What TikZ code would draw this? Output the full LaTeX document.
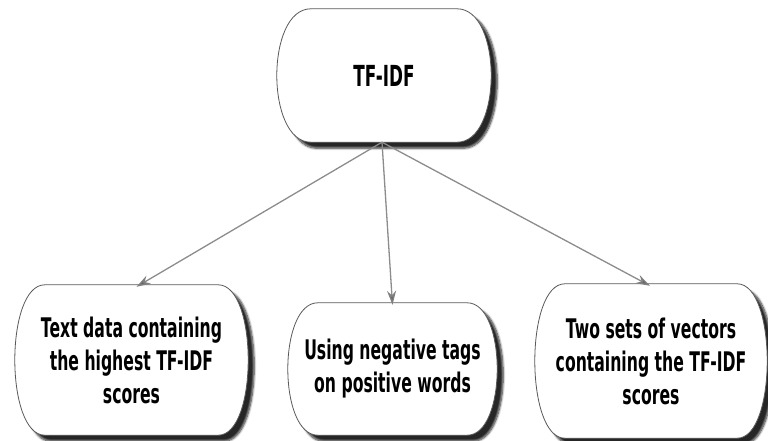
\documentclass[tikz,border=0pt]{standalone}
\usepackage{fontspec}
\setmainfont[FakeStretch=0.58]{DejaVu Sans}
\usetikzlibrary{shadows.blur,arrows.meta,calc}
\pgfdeclarelayer{background}
\pgfsetlayers{background,main}
\newcommand\blobshape[2]{%
  \begin{pgfonlayer}{background}
  \path[blob] let \p1=(#1.north west), \p2=(#1.south east) in
    (\x1+#2,\y1) -- (\x2-#2,\y1)
    .. controls (\x2+#2/3,\y1) and (\x2+#2/3,\y2) .. (\x2-#2,\y2)
    -- (\x1+#2,\y2)
    .. controls (\x1-#2/3,\y2) and (\x1-#2/3,\y1) .. cycle;
  \end{pgfonlayer}}
\begin{document}
\begin{tikzpicture}[x=1pt,y=-1pt,
  box/.style={align=center,font=\bfseries\fontsize{27}{33}\selectfont,inner sep=0pt},
  blob/.style={draw=black!65,line width=0.8pt,fill=white,
    blur shadow={shadow xshift=6pt,shadow yshift=-6pt,shadow blur steps=7,shadow opacity=85}},
  link/.style={draw=black!45,line width=1.3pt,-{Stealth[length=14pt,width=9pt,fill=black!60,color=black!50]}}]
\useasboundingbox (0,0) rectangle (768,441);
\node[box,minimum width=214pt,minimum height=133pt,font=\bfseries\fontsize{29}{33}\selectfont] (top) at (384,75.5) {TF-IDF};
\node[box,minimum width=233pt,minimum height=150pt] (left) at (131.5,360) {Text data containing\\the highest TF-IDF\\scores};
\node[box,minimum width=209pt,minimum height=132pt] (mid) at (392.5,369) {Using negative tags\\on positive words};
\node[box,minimum width=232pt,minimum height=154pt] (right) at (651,361) {Two sets of vectors\\containing the TF-IDF\\scores};
\blobshape{top}{34pt}
\blobshape{left}{30pt}
\blobshape{mid}{30pt}
\blobshape{right}{30pt}
\coordinate (src) at ([xshift=-2pt]top.south);
\draw[link] (src) -- ([xshift=5pt,yshift=-2pt]left.north);
\draw[link] (src) -- ([yshift=-2pt]mid.north);
\draw[link] (src) -- ([xshift=-1pt,yshift=-2pt]right.north);
\end{tikzpicture}
\end{document}
